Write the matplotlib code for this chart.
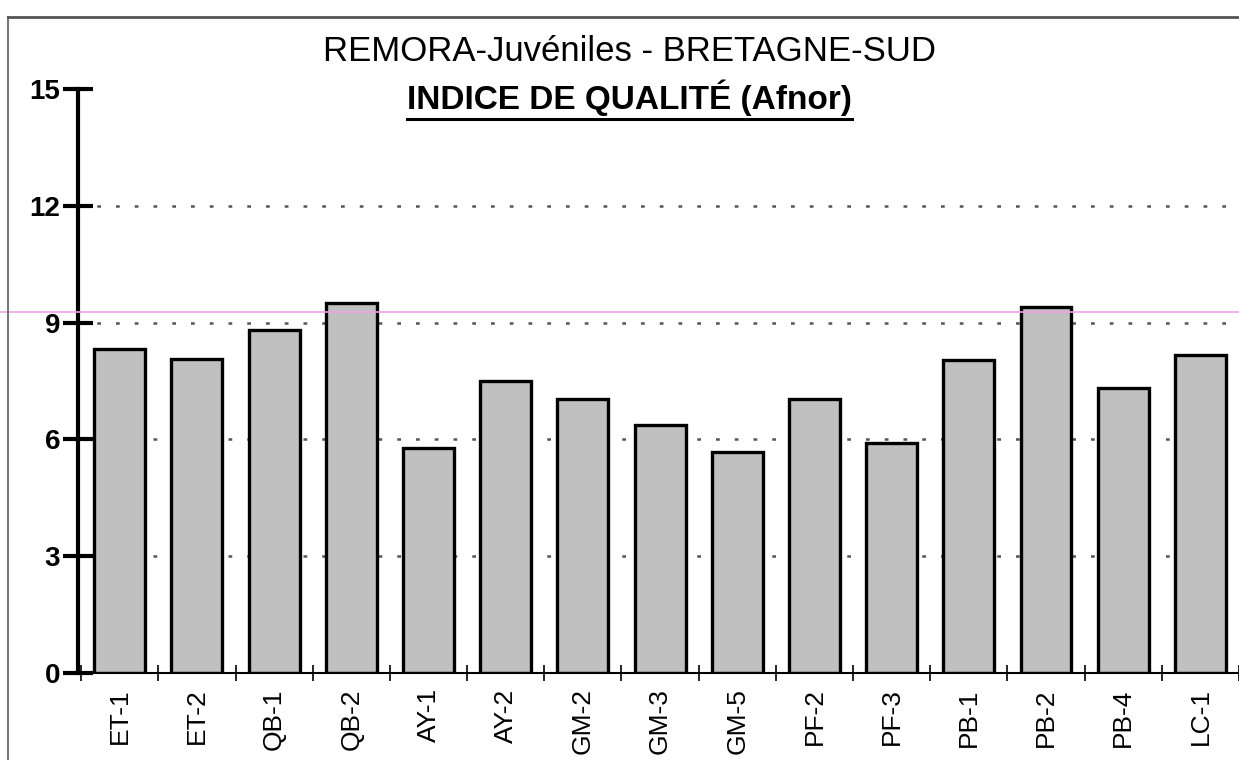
import matplotlib.pyplot as plt
import matplotlib.lines as mlines
import numpy as np

plt.rcParams['font.family'] = ['Liberation Sans', 'DejaVu Sans']

stations = ['ET-1', 'ET-2', 'QB-1', 'QB-2', 'AY-1', 'AY-2', 'GM-2', 'GM-3',
            'GM-5', 'PF-2', 'PF-3', 'PB-1', 'PB-2', 'PB-4', 'LC-1']
indice = [8.32, 8.07, 8.82, 9.49, 5.78, 7.51, 7.04, 6.38,
          5.68, 7.04, 5.91, 8.05, 9.40, 7.32, 8.17]
y_ticks = [0, 3, 6, 9, 12, 15]
ref_level = 9.28

fig = plt.figure(figsize=(12.39, 7.6), dpi=100)
ax = fig.add_axes([0.063, 0.1145, 0.937, 0.7685])

x = np.arange(len(stations))
ax.bar(x, indice, width=0.66, color='#c0c0c0', edgecolor='black',
       linewidth=2.4, zorder=3)

ax.set_xlim(-0.54, 14.48)
ax.set_ylim(0, 15)

# dotted grid
for v in y_ticks[1:-1]:
    ax.axhline(v, color='#555555', linestyle=(0, (1.5, 6)), linewidth=1.8, zorder=1)

ax.set_yticks(y_ticks)
ax.set_yticklabels([str(v) for v in y_ticks], fontsize=20, fontweight='bold')
ax.tick_params(axis='y', direction='inout', length=22, width=3, pad=2)

ax.set_xticks(x)
ax.set_xticklabels(stations, rotation=90, fontsize=19)
ax.tick_params(axis='x', length=0, pad=11)
ax.set_xticks(np.arange(-0.5, 15, 1), minor=True)
ax.tick_params(axis='x', which='minor', direction='inout', length=12, width=1.2)

for s in ['top', 'right']:
    ax.spines[s].set_visible(False)
ax.spines['left'].set_linewidth(3)
ax.spines['bottom'].set_linewidth(1.5)
ax.spines['bottom'].set_zorder(4)

# reference line across the whole page
y_ref = ax.transData.transform((0, ref_level))[1]
y_ref_fig = fig.transFigure.inverted().transform((0, y_ref))[1]
fig.add_artist(mlines.Line2D([0, 1], [y_ref_fig, y_ref_fig], color='#e9a6e6',
                             linewidth=1.2, transform=fig.transFigure))

# page frame
fig.add_artist(mlines.Line2D([0.0065, 0.0065], [0, 0.978], color='#777777',
                             linewidth=1.5, transform=fig.transFigure))
fig.add_artist(mlines.Line2D([0.0065, 1], [0.978, 0.978], color='#555555',
                             linewidth=2, transform=fig.transFigure))

fig.text(0.508, 0.932, 'REMORA-Juvéniles - BRETAGNE-SUD', ha='center',
         va='center', fontsize=25)
t = fig.text(0.508, 0.871, 'INDICE DE QUALITÉ (Afnor)', ha='center',
             va='center', fontsize=24, fontweight='bold')

fig.canvas.draw()
bb = t.get_window_extent().transformed(fig.transFigure.inverted())
fig.add_artist(mlines.Line2D([bb.x0, bb.x1], [bb.y0 - 0.003, bb.y0 - 0.003],
                             color='black', linewidth=2.2, transform=fig.transFigure))

fig.savefig('out.png', dpi=100)
